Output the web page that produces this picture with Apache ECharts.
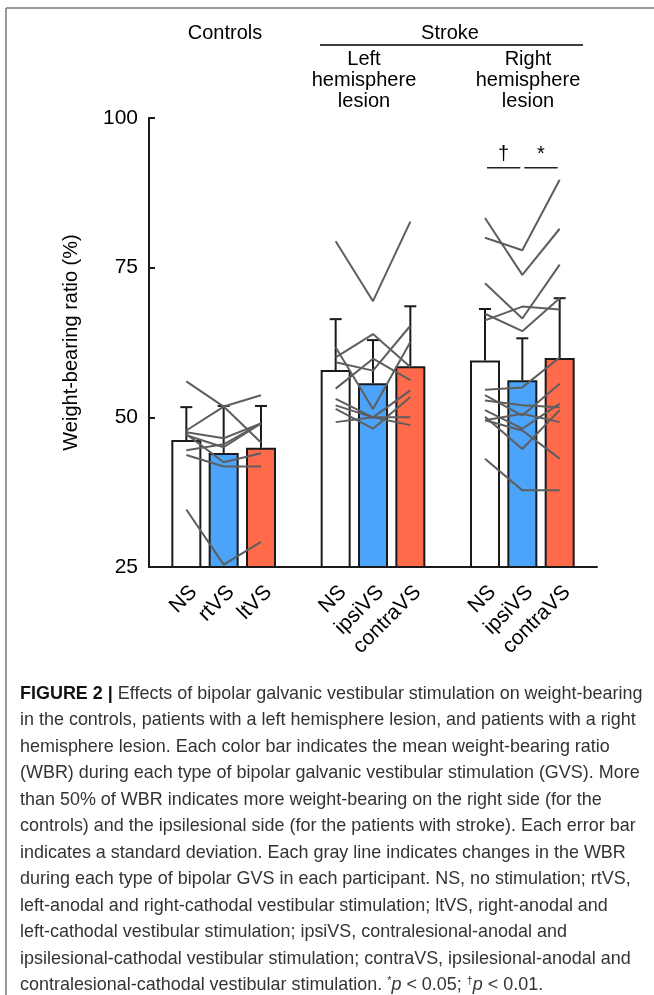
<!DOCTYPE html>
<html><head><meta charset="utf-8">
<script src="https://cdn.jsdelivr.net/npm/echarts@6/dist/echarts.min.js"></script>
<style>html,body{margin:0;padding:0;background:#fff}#c{width:654px;height:995px}</style>
</head><body><div id="c"></div>
<script>
// ---- data ----
const categories = ['', 'NS', 'rtVS', 'ltVS', '', 'NS', 'ipsiVS', 'contraVS', '', 'NS', 'ipsiVS', 'contraVS', ''];
const barPositions = [1, 2, 3, 5, 6, 7, 9, 10, 11];
const barMeans = [46.2, 44.05, 44.9, 57.9, 55.7, 58.55, 59.5, 56.2, 59.9];
const barSdTops = [51.7, 51.9, 51.9, 66.4, 62.9, 68.55, 68.1, 63.2, 69.9];
const barKinds = ['none', 'ipsi', 'contra', 'none', 'ipsi', 'contra', 'none', 'ipsi', 'contra'];
const controlsLines = [
  [56.0, 51.8, 53.7], [47.8, 51.8, 45.8], [47.5, 46.5, 49.0], [47.0, 45.0, 49.0],
  [44.5, 45.5, 49.0], [43.7, 41.8, 41.8], [47.2, 42.5, 44.0], [34.6, 25.4, 29.2]
];
const leftLines = [
  [79.4, 69.4, 82.7], [60.0, 63.9, 58.4], [59.2, 57.8, 65.3], [61.7, 51.4, 62.6],
  [54.8, 59.8, 56.2], [53.1, 50.0, 54.5], [51.4, 48.1, 53.4], [49.2, 50.0, 48.7], [52.0, 50.0, 50.0]
];
const rightLines = [
  [83.3, 73.8, 81.5], [80.0, 77.9, 89.7], [72.4, 66.5, 75.5], [66.2, 68.5, 68.0],
  [67.3, 64.4, 69.9], [54.6, 55.0, 60.0], [53.7, 50.3, 55.6], [52.8, 52.0, 51.7],
  [51.2, 48.1, 52.3], [50.1, 44.7, 51.2], [49.5, 50.6, 49.2], [49.5, 47.8, 43.1], [43.1, 37.8, 37.8]
];
const groupStarts = [1, 5, 9];
const significance = [[9, 10, 91.7, '†'], [10, 11, 91.7, '*']];
const yTicks = [25, 50, 75, 100];
const yName = 'Weight-bearing ratio (%)';
const captionLines = [
  'Effects of bipolar galvanic vestibular stimulation on weight-bearing',
  'in the controls, patients with a left hemisphere lesion, and patients with a right',
  'hemisphere lesion. Each color bar indicates the mean weight-bearing ratio',
  '(WBR) during each type of bipolar galvanic vestibular stimulation (GVS). More',
  'than 50% of WBR indicates more weight-bearing on the right side (for the',
  'controls) and the ipsilesional side (for the patients with stroke). Each error bar',
  'indicates a standard deviation. Each gray line indicates changes in the WBR',
  'during each type of bipolar GVS in each participant. NS, no stimulation; rtVS,',
  'left-anodal and right-cathodal vestibular stimulation; ltVS, right-anodal and',
  'left-cathodal vestibular stimulation; ipsiVS, contralesional-anodal and',
  'ipsilesional-cathodal vestibular stimulation; contraVS, ipsilesional-anodal and',
  'contralesional-cathodal vestibular stimulation. '
];

// ---- styles ----
const FONT = "'Liberation Sans', Arial, Helvetica, sans-serif";
const kindColor = { none: '#ffffff', ipsi: '#4ba3fa', contra: '#ff6a4a' };
const lineGray = '#5e5e5e';
const labelShift = 0.2; // label anchor offset (in category units) to the right

// caption font fitting
const cx = document.createElement('canvas').getContext('2d');
function w(fam, size, s) { cx.font = size + 'px ' + fam; return cx.measureText(s).width; }
let capFam = FONT;
let capSize = 17 * 616 / w(capFam, 17, captionLines[1]);
capSize = Math.min(capSize, 18.5);

const chart = echarts.init(document.getElementById('c'), null, { renderer: 'canvas' });

const series = [];
series.push({
  type: 'bar', barWidth: 30, z: 2,
  data: barPositions.map((p, i) => ({
    value: [p, barMeans[i]],
    itemStyle: { color: kindColor[barKinds[i]], borderColor: '#1a1a1a', borderWidth: 2 }
  }))
});
function addLines(lines, start) {
  lines.forEach(l => series.push({
    type: 'line', z: 4, symbol: 'none', silent: true,
    lineStyle: { color: lineGray, width: 2 },
    data: l.map((v, j) => [start + j, v])
  }));
}
addLines(controlsLines, groupStarts[0]);
addLines(leftLines, groupStarts[1]);
addLines(rightLines, groupStarts[2]);
series.push({
  type: 'custom', z: 3,
  data: barPositions.map((p, i) => [p, barMeans[i], barSdTops[i]]),
  renderItem: (params, api) => {
    const a = api.coord([api.value(0), api.value(1)]);
    const b = api.coord([api.value(0), api.value(2)]);
    const st = { stroke: '#1a1a1a', lineWidth: 2 };
    return { type: 'group', children: [
      { type: 'line', shape: { x1: a[0], y1: a[1], x2: b[0], y2: b[1] }, style: st },
      { type: 'line', shape: { x1: b[0] - 6, y1: b[1], x2: b[0] + 6, y2: b[1] }, style: st }
    ] };
  }
});
series.push({
  type: 'custom', z: 5,
  data: significance,
  renderItem: (params, api) => {
    const s = significance[params.dataIndex];
    const a = api.coord([s[0], s[2]]);
    const b = api.coord([s[1], s[2]]);
    return { type: 'group', children: [
      { type: 'line', shape: { x1: a[0] + 2, y1: a[1], x2: b[0] - 2, y2: b[1] }, style: { stroke: '#222', lineWidth: 1.5 } },
      { type: 'text', x: (a[0] + b[0]) / 2, y: a[1] - 3, style: { text: s[3], fontSize: 20, fontFamily: FONT, fill: '#000', align: 'center', verticalAlign: 'bottom' } }
    ] };
  }
});

const graphic = [
  { type: 'line', shape: { x1: 6, y1: 8, x2: 654, y2: 8 }, style: { stroke: '#777', lineWidth: 1.5 } },
  { type: 'line', shape: { x1: 6, y1: 8, x2: 6, y2: 995 }, style: { stroke: '#777', lineWidth: 1.5 } },
  { type: 'text', x: 225, y: 33, style: { text: 'Controls', fontSize: 20, fontFamily: FONT, fill: '#000', align: 'center', verticalAlign: 'middle' } },
  { type: 'text', x: 450, y: 33, style: { text: 'Stroke', fontSize: 20, fontFamily: FONT, fill: '#000', align: 'center', verticalAlign: 'middle' } },
  { type: 'line', shape: { x1: 320, y1: 45, x2: 583, y2: 45 }, style: { stroke: '#000', lineWidth: 1.5 } },
  { type: 'text', x: 364, y: 49, style: { text: 'Left\nhemisphere\nlesion', fontSize: 20, lineHeight: 21, fontFamily: FONT, fill: '#000', align: 'center', verticalAlign: 'top' } },
  { type: 'text', x: 528, y: 49, style: { text: 'Right\nhemisphere\nlesion', fontSize: 20, lineHeight: 21, fontFamily: FONT, fill: '#000', align: 'center', verticalAlign: 'top' } }
];
const capTop = 694, capStep = 26.5;
captionLines.forEach((t, i) => {
  let style;
  if (i === 0) {
    style = { text: '{b|FIGURE 2 |} ' + t, rich: { b: { fontWeight: 'bold', fill: '#111', fontFamily: capFam, fontSize: capSize } } };
  } else if (i === captionLines.length - 1) {
    style = { text: t + '{s|*}{i|p} < 0.05; {s|†}{i|p} < 0.01.', rich: {
      s: { fontSize: capSize * 0.6, verticalAlign: 'top', fill: '#333', fontFamily: capFam, padding: [0, 0, 8, 0] },
      i: { fontStyle: 'italic', fill: '#333', fontFamily: capFam, fontSize: capSize }
    } };
  } else {
    style = { text: t };
  }
  style.fontSize = capSize; style.fontFamily = capFam; style.fill = '#333'; style.verticalAlign = 'middle';
  graphic.push({ type: 'text', x: 20, y: capTop + i * capStep, style });
});

chart.setOption({
  animation: false,
  backgroundColor: '#fff',
  grid: { left: 149, right: 57, top: 118, bottom: 428, containLabel: false, outerBoundsMode: 'none' },
  xAxis: {
    type: 'value', min: 0, max: 12, interval: 1,
    axisLine: { show: true, lineStyle: { color: '#1a1a1a', width: 2 } },
    axisTick: { show: false }, splitLine: { show: false },
    axisLabel: {
      rotate: 45, margin: 22, fontSize: 21, fontFamily: FONT, color: '#000',
      customValues: barPositions.map(p => p + labelShift),
      formatter: v => categories[Math.round(v - labelShift)] || ''
    }
  },
  yAxis: {
    type: 'value', min: yTicks[0], max: yTicks[yTicks.length - 1], interval: 25,
    name: yName, nameLocation: 'middle', nameGap: 68, nameRotate: 90,
    nameTextStyle: { fontSize: 20, fontFamily: FONT, color: '#000' },
    axisLine: { show: true, lineStyle: { color: '#1a1a1a', width: 2 } },
    axisTick: { show: true, inside: true, length: 6, lineStyle: { color: '#1a1a1a', width: 2 } },
    splitLine: { show: false },
    axisLabel: { margin: 11, fontSize: 21, fontFamily: FONT, color: '#000' }
  },
  series,
  graphic
});
</script></body></html>
